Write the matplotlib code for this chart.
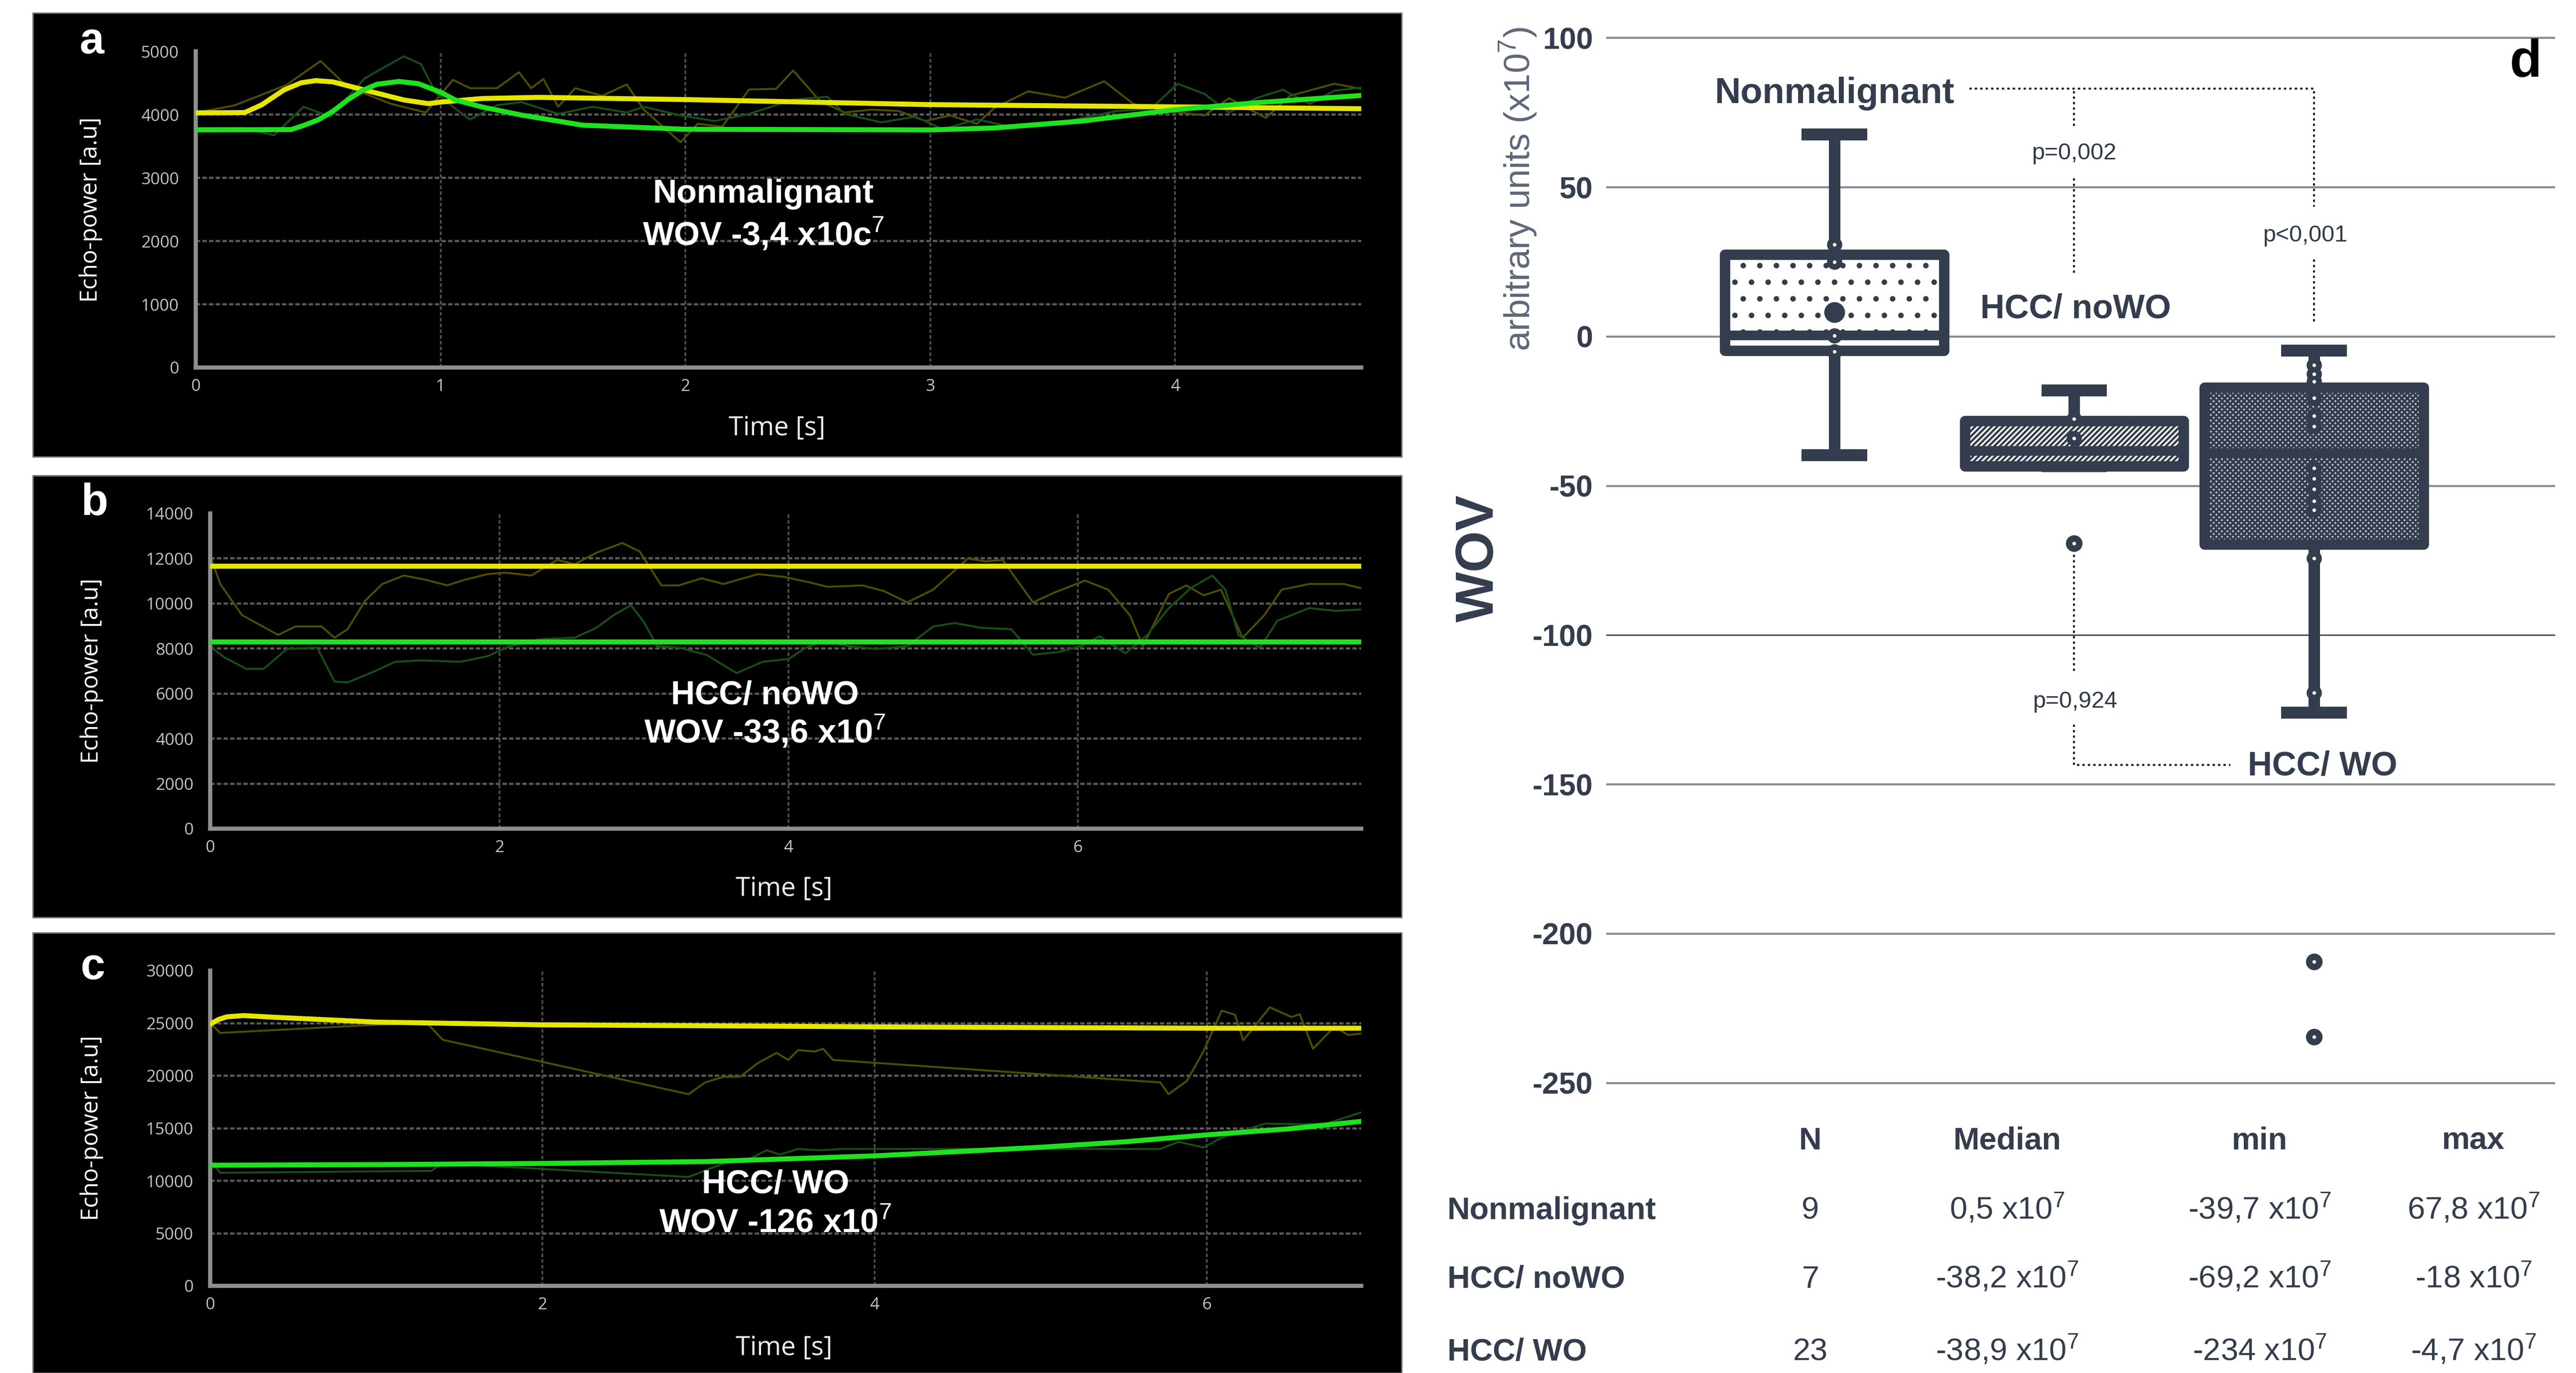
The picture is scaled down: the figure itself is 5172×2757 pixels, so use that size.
import matplotlib.pyplot as plt
from matplotlib import font_manager
from matplotlib.font_manager import FontProperties
from matplotlib.patches import Rectangle

plt.switch_backend("Agg")

W, H, DPI = 5172, 2757, 200

plt.rcParams["axes.unicode_minus"] = False
plt.rcParams["mathtext.fontset"] = "custom"
plt.rcParams["mathtext.rm"] = "Liberation Sans"
plt.rcParams["mathtext.bf"] = "Liberation Sans:bold"
plt.rcParams["hatch.linewidth"] = 1.6

# condensed face for panel d, plain Liberation Sans if the narrow cut is missing
try:
    font_manager.findfont(FontProperties(family="Liberation Sans Narrow"), fallback_to_default=False)
    COND, K = "Liberation Sans Narrow", 1.0
except ValueError:
    COND, K = "Liberation Sans", 0.84

DARK = "#333d4d"

# ---- panel a: nonmalignant, time [s] / echo power [a.u] ----
a_yfit_t = [0, 0.2, 0.27, 0.36, 0.43, 0.49, 0.56, 0.68, 0.85, 0.95, 1.0, 1.17, 1.4, 2.0, 3.0, 4.0, 4.76]
a_yfit_v = [4030, 4035, 4158, 4392, 4505, 4540, 4520, 4400, 4234, 4176, 4200, 4257, 4275, 4240, 4160, 4125, 4095]
a_gfit_t = [0, 0.39, 0.44, 0.50, 0.56, 0.62, 0.68, 0.74, 0.83, 0.91, 1.0, 1.06, 1.17, 1.33, 1.58, 2.0,
            3.0, 3.26, 3.62, 4.0, 4.33, 4.76]
a_gfit_v = [3760, 3765, 3830, 3919, 4054, 4234, 4383, 4482, 4527, 4491, 4356, 4234, 4122, 3995, 3835, 3770,
            3760, 3790, 3900, 4080, 4190, 4305]
a_yraw_t = [0, 0.16, 0.37, 0.51, 0.62, 0.80, 0.94, 1.05, 1.12, 1.23, 1.32, 1.37, 1.42, 1.48, 1.55, 1.66,
            1.76, 1.83, 1.98, 2.05, 2.15, 2.26, 2.37, 2.44, 2.55, 2.65, 2.76, 2.87, 2.98, 3.08, 3.19, 3.26,
            3.40, 3.55, 3.71, 3.83, 3.97, 4.12, 4.22, 4.37, 4.47, 4.65, 4.76]
a_yraw_v = [4030, 4150, 4470, 4850, 4440, 4170, 4036, 4553, 4420, 4420, 4672, 4420, 4566, 4126, 4420, 4300,
            4479, 4080, 3565, 3857, 3810, 4400, 4410, 4700, 4215, 4036, 4080, 4060, 3900, 3990, 3857, 4103,
            4370, 4270, 4530, 4170, 4058, 3990, 4260, 3950, 4300, 4490, 4410]
a_graw_t = [0, 0.19, 0.32, 0.44, 0.55, 0.69, 0.76, 0.85, 0.92, 0.98, 1.05, 1.12, 1.23, 1.33, 1.48, 1.62,
            1.76, 1.83, 1.98, 2.12, 2.26, 2.44, 2.58, 2.65, 2.80, 2.94, 3.05, 3.19, 3.33, 3.48, 3.62, 3.76,
            3.90, 4.01, 4.12, 4.22, 4.33, 4.44, 4.55, 4.65, 4.76]
a_graw_v = [3790, 3790, 3676, 4126, 3970, 4575, 4730, 4924, 4800, 4350, 4126, 3925, 4150, 4200, 4013, 4126,
            4036, 4126, 3990, 3900, 4013, 4240, 4285, 4013, 3880, 3970, 3770, 3925, 3810, 3830, 3950, 4058,
            4090, 4490, 4330, 4036, 4260, 4396, 4170, 4380, 4430]

# ---- panel b: HCC / noWO ----
b_yfit_t = [0, 7.96]
b_yfit_v = [11650, 11650]
b_gfit_t = [0, 7.96]
b_gfit_v = [8300, 8300]
b_yraw_t = [0, 0.07, 0.22, 0.47, 0.59, 0.77, 0.86, 0.95, 1.07, 1.19, 1.34, 1.49, 1.64, 1.76, 1.92, 2.04,
            2.22, 2.40, 2.52, 2.67, 2.85, 2.97, 3.12, 3.24, 3.40, 3.55, 3.79, 3.97, 4.15, 4.27, 4.51, 4.66,
            4.82, 5.00, 5.12, 5.24, 5.36, 5.48, 5.69, 5.84, 6.05, 6.21, 6.36, 6.45, 6.63, 6.75, 6.87, 6.99,
            7.14, 7.29, 7.41, 7.60, 7.84, 7.96]
b_yraw_v = [12123, 10867, 9485, 8605, 8982, 8982, 8480, 8857, 10113, 10867, 11244, 11055, 10804, 11055,
            11307, 11369, 11244, 11935, 11746, 12249, 12688, 12312, 10804, 10804, 11118, 10867, 11307, 11181,
            10930, 10741, 10804, 10553, 10050, 10616, 11307, 11997, 11872, 11935, 10050, 10490, 11018, 10616,
            9485, 8103, 10427, 10804, 10364, 10616, 8480, 9485, 10616, 10867, 10867, 10678]
b_graw_t = [0, 0.10, 0.25, 0.37, 0.53, 0.74, 0.86, 0.95, 1.13, 1.28, 1.46, 1.73, 1.92, 2.07, 2.28, 2.52,
            2.67, 2.79, 2.91, 3.00, 3.09, 3.24, 3.43, 3.64, 3.82, 4.00, 4.12, 4.24, 4.42, 4.60, 4.82, 5.00,
            5.15, 5.33, 5.54, 5.69, 5.87, 6.02, 6.15, 6.33, 6.48, 6.63, 6.78, 6.93, 7.02, 7.11, 7.26, 7.38,
            7.60, 7.78, 7.96]
b_graw_v = [8103, 7600, 7098, 7098, 7977, 8040, 6533, 6495, 6972, 7412, 7475, 7412, 7663, 8103, 8417, 8480,
            8920, 9485, 9925, 9171, 8103, 8040, 7726, 6910, 7412, 7538, 8040, 8354, 8103, 7977, 8103, 8982,
            9133, 8920, 8857, 7726, 7852, 8103, 8543, 7789, 8605, 9799, 10678, 11244, 10616, 8605, 8040, 9234,
            9799, 9673, 9736]

# ---- panel c: HCC / WO ----
c_yfit_t = [0, 0.05, 0.1, 0.2, 0.4, 1.0, 2.0, 3.0, 4.0, 5.0, 6.0, 6.93]
c_yfit_v = [24900, 25350, 25600, 25720, 25550, 25100, 24840, 24750, 24650, 24580, 24520, 24520]
c_gfit_t = [0, 1.0, 2.0, 3.0, 4.0, 4.98, 5.5, 6.0, 6.5, 6.93]
c_gfit_v = [11480, 11540, 11650, 11830, 12370, 13170, 13700, 14370, 14950, 15650]
c_yraw_t = [0, 0.06, 1.30, 1.40, 2.88, 2.98, 3.09, 3.19, 3.30, 3.41, 3.48, 3.54, 3.64, 3.69, 3.75, 5.72,
            5.77, 5.88, 5.98, 6.09, 6.17, 6.22, 6.38, 6.51, 6.56, 6.64, 6.77, 6.85, 6.93]
c_yraw_v = [25000, 24070, 25100, 23420, 18240, 19360, 19900, 19900, 21230, 22170, 21500, 22440, 22300, 22570,
            21500, 19360, 18240, 19500, 22300, 26190, 25800, 23370, 26510, 25580, 25850, 22560, 24680, 23880,
            24010]
c_graw_t = [0, 0.06, 1.33, 1.40, 2.88, 3.09, 3.25, 3.35, 3.43, 3.54, 3.67, 3.80, 5.72, 5.83, 5.98, 6.09,
            6.35, 6.56, 6.72, 6.93]
c_graw_v = [11960, 10760, 10950, 11650, 10360, 11650, 12100, 12900, 12500, 13030, 12900, 13030, 13030, 13700,
            13170, 14100, 15440, 15380, 15440, 16510]

# ---- panel d: WOV (x10^7) per group ----
groups = ["Nonmalignant", "HCC/ noWO", "HCC/ WO"]
n_cases = [9, 7, 23]
wov_med = [0.5, -38.2, -38.9]
wov_q1 = [-4.75, -43.3, -69.6]
wov_q3 = [27.6, -28.2, -17.0]
wov_min = [-39.7, -69.2, -234.0]
wov_max = [67.8, -18.0, -4.7]
whisk_lo = [-39.7, -43.3, -126.0]
outliers = [[], [-69.2], [-209.3, -234.6]]
inner_points = [[30.8, 25.0, 0.4, -5.0],
                [-27.5, -34.0],
                [-9.5, -12.5, -15.0, -20.5, -26.5, -30.0, -44.0, -47.5, -51.0, -55.0, -58.0, -74.2, -119.2]]
nonmal_mean = 8.2
wov_ticks = [100, 50, 0, -50, -100, -150, -200, -250]

med_txt = ["0,5", "-38,2", "-38,9"]
min_txt = ["-39,7", "-69,2", "-234"]
max_txt = ["67,8", "-18", "-4,7"]


def frac(x0, y0, x1, y1):
    return [x0 / W, 1 - y1 / H, (x1 - x0) / W, (y1 - y0) / H]


def pt(x, y):
    return x / W, 1 - y / H


fig = plt.figure(figsize=(W / DPI, H / DPI), dpi=DPI, facecolor="white")

panels = [
    dict(bg=(66, 26, 2814, 917), box=(393, 103.5, 2733, 738), xlim=4.76, ymax=5000, ystep=1000,
         xticks=[0, 1, 2, 3, 4], letter="a", lpos=(184, 84), ylx=-0.09,
         lines=(a_yraw_t, a_yraw_v, a_graw_t, a_graw_v, a_yfit_t, a_yfit_v, a_gfit_t, a_gfit_v),
         title="Nonmalignant", wov="WOV -3,4 x10c$^{7}$", tpos=(0.487, 0.548, 0.421), xl=-0.192),
    dict(bg=(66, 955, 2814, 1842), box=(422, 1031, 2733, 1664), xlim=7.96, ymax=14000, ystep=2000,
         xticks=[0, 2, 4, 6], letter="b", lpos=(189, 1011), ylx=-0.103,
         lines=(b_yraw_t, b_yraw_v, b_graw_t, b_graw_v, b_yfit_t, b_yfit_v, b_gfit_t, b_gfit_v),
         title="HCC/ noWO", wov="WOV -33,6 x10$^{7}$", tpos=(0.482, 0.422, 0.308), xl=-0.19),
    dict(bg=(66, 1873, 2814, 2757), box=(422, 1949, 2733, 2582), xlim=6.93, ymax=30000, ystep=5000,
         xticks=[0, 2, 4, 6], letter="c", lpos=(186, 1943), ylx=-0.103,
         lines=(c_yraw_t, c_yraw_v, c_graw_t, c_graw_v, c_yfit_t, c_yfit_v, c_gfit_t, c_gfit_v),
         title="HCC/ WO", wov="WOV -126 x10$^{7}$", tpos=(0.491, 0.321, 0.196), xl=-0.197),
]

for p in panels:
    x0, y0, x1, y1 = p["bg"]
    fig.patches.append(Rectangle((x0 / W, 1 - y1 / H), (x1 - x0) / W, (y1 - y0) / H,
                                 transform=fig.transFigure, facecolor="black",
                                 edgecolor="#6e6e6e", linewidth=1.0, zorder=-5))
    ax = fig.add_axes(frac(*p["box"]))
    ax.set_facecolor("black")
    ax.set_xlim(0, p["xlim"])
    ax.set_ylim(0, p["ymax"])
    yt = list(range(0, p["ymax"] + 1, p["ystep"]))
    ax.set_yticks(yt)
    ax.set_xticks(p["xticks"])
    for s in ["top", "right"]:
        ax.spines[s].set_visible(False)
    for s in ["left", "bottom"]:
        ax.spines[s].set_color("#8f8f8f")
        ax.spines[s].set_linewidth(3)
    ax.tick_params(axis="both", length=0, labelsize=12, labelcolor="#c4c4c4")
    ax.tick_params(axis="y", pad=12)
    ax.tick_params(axis="x", pad=8)
    for lbl in ax.get_xticklabels() + ax.get_yticklabels():
        lbl.set_fontfamily("Open Sans")
    for y in yt[1:-1]:
        ax.axhline(y, color="#5a5a5a", lw=1.6, ls=(0, (2.0, 1.0)), zorder=1)
    for x in p["xticks"][1:]:
        ax.axvline(x, color="#4e4e4e", lw=1.3, ls=(0, (2.0, 1.2)), zorder=1)

    yrt, yrv, grt, grv, yft, yfv, gft, gfv = p["lines"]
    ax.plot(yrt, yrv, color="#4f4d00", lw=1.4, zorder=2)
    ax.plot(grt, grv, color="#174f17", lw=1.4, zorder=2)
    ax.plot(yft, yfv, color="#e6e600", lw=3.6, zorder=3)
    ax.plot(gft, gfv, color="#1ee21e", lw=3.6, zorder=3)

    ax.text(p["ylx"], 0.5, "Echo-power [a.u]", rotation=90,
            transform=ax.transAxes, ha="center", va="center", color="white",
            fontsize=17, family="Open Sans")
    ax.text(0.4987, p["xl"], "Time [s]", transform=ax.transAxes, ha="center", va="center",
            color="#ececec", fontsize=19, family="Open Sans")
    tx, ty1, ty2 = p["tpos"]
    ax.text(tx, ty1, p["title"], transform=ax.transAxes, ha="center", va="center",
            color="white", fontsize=24, fontweight="bold", family="Liberation Sans", zorder=6)
    ax.text(tx, ty2, p["wov"], transform=ax.transAxes, ha="center", va="center",
            color="white", fontsize=24, fontweight="bold", family="Liberation Sans", zorder=6)
    fig.text(*pt(*p["lpos"]), p["letter"], ha="center", va="center", color="white",
             fontsize=32, fontweight="bold", family="Liberation Sans")

# ---- panel d: box plot ----
axd = fig.add_axes(frac(3225, 58.5, 5130, 2186.7))
axd.set_xlim(0.049, 4.005)
axd.set_ylim(-252, 103)
for s in axd.spines.values():
    s.set_visible(False)
axd.set_facecolor("none")
for y in wov_ticks:
    if y == -100:
        axd.axhline(y, color="#3a4454", lw=1.0, zorder=0)
    else:
        axd.axhline(y, color="#878d96", lw=1.5, zorder=0)

stats = []
for i, g in enumerate(groups):
    stats.append(dict(label=g, med=wov_med[i], q1=wov_q1[i], q3=wov_q3[i],
                      whislo=whisk_lo[i], whishi=wov_max[i], fliers=outliers[i]))

pos = [1, 2, 3]
bp = axd.bxp(stats, positions=pos, widths=0.913, capwidths=0.274, patch_artist=True,
             manage_ticks=False,
             boxprops=dict(facecolor="white", edgecolor=DARK, linewidth=7.5),
             medianprops=dict(color=DARK, linewidth=7, solid_capstyle="butt"),
             whiskerprops=dict(color=DARK, linewidth=8.3, solid_capstyle="butt"),
             capprops=dict(color=DARK, linewidth=8.6, solid_capstyle="butt"),
             flierprops=dict(marker="o", markerfacecolor=DARK, markeredgecolor=DARK, markersize=11))
box_fill = [("white", "."), ("white", "//////"), ("#c9ccd1", "xxxxxx")]
for b, (fc, hatch) in zip(bp["boxes"], box_fill):
    b.set_facecolor(fc)
    b.set_hatch(hatch)
    b.set_joinstyle("round")
    b.set_zorder(2.5)
for m in bp["medians"]:
    m.set_zorder(2.6)

for x, pts_, fl in zip(pos, inner_points, outliers):
    allp = pts_ + fl
    axd.plot([x] * len(pts_), pts_, "o", ms=10, mfc=DARK, mec=DARK, zorder=4)
    axd.plot([x] * len(allp), allp, "o", ms=2.6, color="white", mec="none", zorder=5)
axd.plot([1], [nonmal_mean], "o", ms=14, mfc=DARK, mec=DARK, zorder=4)

axd.set_xticks([])
axd.set_yticks(wov_ticks)
axd.tick_params(axis="y", length=0, pad=9.7, labelcolor=DARK, labelsize=26 * K)
for lbl in axd.get_yticklabels():
    lbl.set_fontfamily(COND)
    lbl.set_fontweight("bold")

# group labels and brackets
dot = dict(color="#1e1e1e", lw=1.4, ls=(0, (1.2, 1.6)), zorder=1, clip_on=False)
axd.plot([1.562, 3.0], [83.0, 83.0], **dot)
axd.plot([2, 2], [82.3, 70.0], **dot)
axd.plot([2, 2], [53.0, 20.6], **dot)
axd.plot([3, 3], [82.3, 43.5], **dot)
axd.plot([3, 3], [25.9, 4.7], **dot)
axd.plot([2, 2], [-71.3, -111.9], **dot)
axd.plot([2, 2, 2.651], [-129.9, -143.4, -143.4], **dot)

axd.text(1.0, 78.2, "Nonmalignant", ha="center", va="baseline", color=DARK,
         fontsize=31 * K, fontweight="bold", family=COND)
axd.text(2.007, 9.2, "HCC/ noWO", ha="center", va="center", color=DARK,
         fontsize=29 * K, fontweight="bold", family=COND)
axd.text(3.035, -144, "HCC/ WO", ha="center", va="center", color=DARK,
         fontsize=29 * K, fontweight="bold", family=COND)
pkw = dict(ha="center", va="center", color="#2f3949", fontsize=20 * K, family=COND)
axd.text(2.0, 61.3, "p=0,002", **pkw)
axd.text(2.963, 33.9, "p<0,001", **pkw)
axd.text(2.003, -122.2, "p=0,924", **pkw)
axd.text(3.883, 91.6, "d", ha="center", va="center", color="black",
         fontsize=38, fontweight="bold", family="Liberation Sans")

fig.text(*pt(3048, 380), "arbitrary units (x10$^{7}$)", rotation=90, ha="center", va="center",
         color="#5d6878", fontsize=26, family="Liberation Sans")
fig.text(*pt(2970, 1121), "WOV", rotation=90, ha="center", va="center", color=DARK,
         fontsize=46 * K, fontweight="bold", family=COND)

# ---- summary table ----
col_x = [3635, 4030, 4537, 4966]
headers = ["N", "Median", "min", "max"]
for x, h in zip(col_x, headers):
    fig.text(*pt(x, 2308), h, ha="center", va="baseline", color=DARK,
             fontsize=27 * K, fontweight="bold", family=COND)
row_base = [2448, 2586, 2732]
for i, g in enumerate(groups):
    yb = row_base[i]
    fig.text(*pt(2906, yb), g, ha="left", va="baseline", color=DARK,
             fontsize=27 * K, fontweight="bold", family=COND)
    cells = [str(n_cases[i]), med_txt[i] + " x10$^{7}$", min_txt[i] + " x10$^{7}$",
             max_txt[i] + " x10$^{7}$"]
    for x, c in zip(col_x, cells):
        fig.text(*pt(x, yb), c, ha="center", va="baseline", color=DARK,
                 fontsize=27 * K, family=COND)

fig.savefig("out.png", dpi=DPI, facecolor="white")
plt.close(fig)
